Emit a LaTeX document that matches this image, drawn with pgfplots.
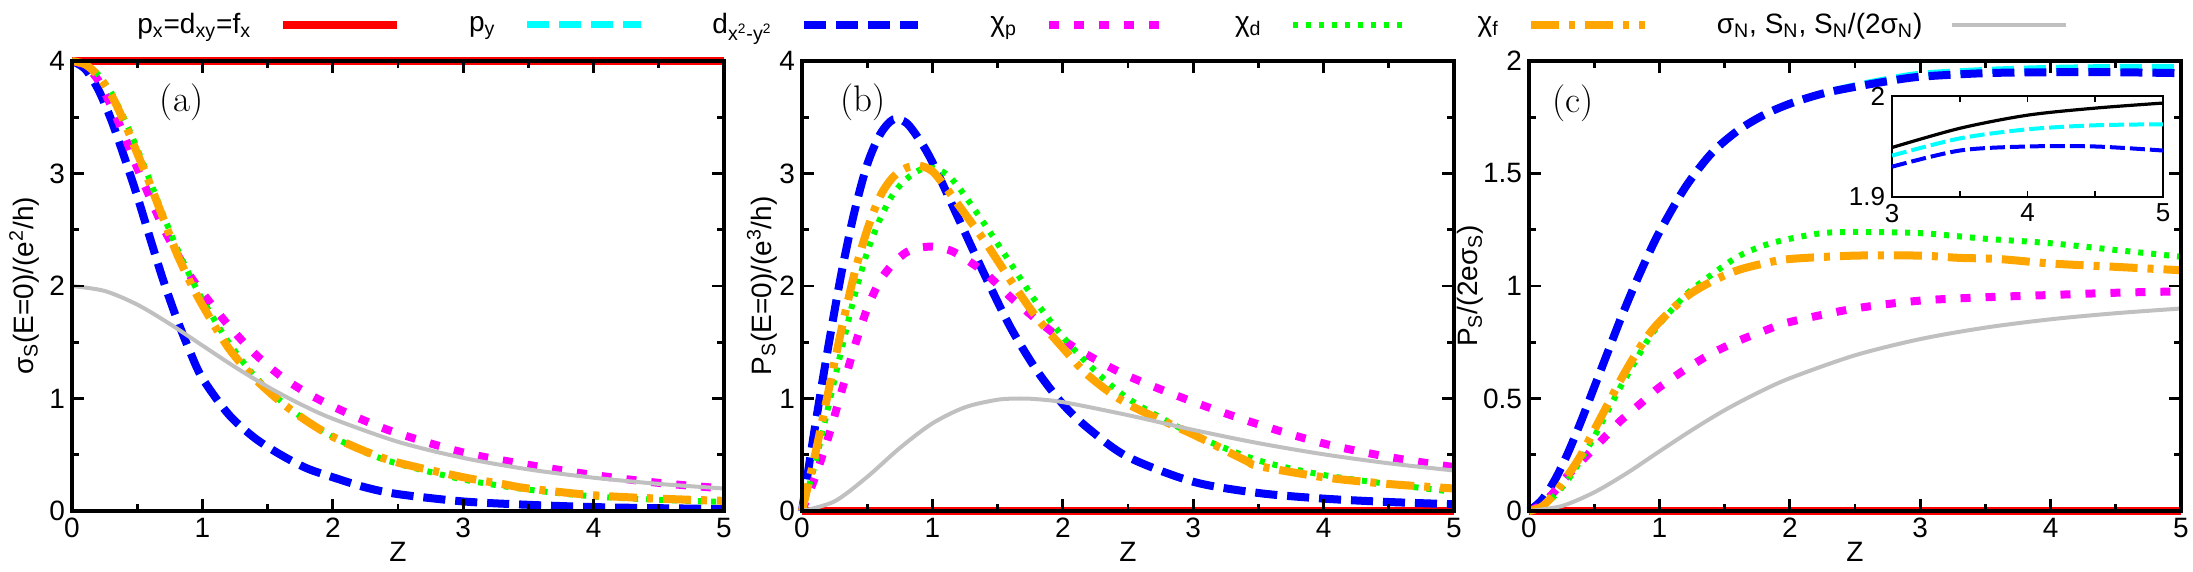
\documentclass[border=0pt]{standalone}
\usepackage{pgfplots}
\pgfplotsset{compat=1.18}
\usepackage{fontspec}
\setsansfont{Liberation Sans}
\definecolor{myorange}{RGB}{255,165,0}
\definecolor{mygray}{RGB}{192,192,192}
\definecolor{myred}{RGB}{255,0,0}
\definecolor{mycyan}{RGB}{0,255,255}
\definecolor{myblue}{RGB}{0,0,255}
\definecolor{mymag}{RGB}{255,0,255}
\definecolor{mygreen}{RGB}{0,255,0}
\newcommand{\lf}{\sffamily\fontsize{14}{16}\selectfont}
\pgfplotsset{
 sred/.style={myred, line width=4pt},
 scyan/.style={mycyan, line width=3.5pt, dash pattern=on 11pt off 5pt},
 sblue/.style={myblue, line width=4pt, dash pattern=on 11pt off 5pt},
 smag/.style={mymag, line width=4pt, dash pattern=on 5pt off 7.5pt},
 sgreen/.style={mygreen, line width=3pt, dash pattern=on 2.5pt off 4pt},
 sorange/.style={myorange, line width=4pt, dash pattern=on 14pt off 5pt on 3pt off 5pt},
 sgray/.style={mygray, line width=2pt},
 panel/.style={scale only axis, width=326pt, height=225pt, xmin=0, xmax=5,
   xtick={0,1,2,3,4,5}, minor x tick num=1, minor y tick num=1,
   tick align=inside, major tick length=6pt, minor tick length=3.5pt,
   axis line style={line width=1.6pt}, every tick/.style={black, line width=1.4pt},
   tick label style={font=\lf},
   /pgf/number format/assume math mode=true,
   xlabel={Z}, every axis x label/.style={at={(axis description cs:0.5,-0.09)}, anchor=center, font=\lf},
   clip=false, axis on top},
}
\begin{document}
\begin{tikzpicture}
%================ (a)
\begin{axis}[panel, at={(36pt,30.5pt)}, anchor=south west, ymin=0, ymax=4, ytick={0,1,2,3,4},
  ylabel={σ\textsubscript{S}(E=0)/(e\textsuperscript{2}/h)},
  every axis y label/.style={at={(axis description cs:-0.0735,0.5)}, rotate=90, anchor=center, font=\lf},
  legend columns=7, legend plot pos=right,
  legend image code/.code={\draw[#1] (0pt,0pt) -- (57pt,0pt);},
  legend style={at={(axis description cs:0.0995,1.08)}, anchor=west, draw=none, fill=none, inner sep=0pt, font=\lf,
    nodes={inner xsep=0pt, inner ysep=1pt},
    /tikz/every odd column/.append style={column sep=14pt},
    /tikz/every even column/.append style={column sep=34pt}}]
\addplot[sred] coordinates {(0,4)(5,4)};
\addlegendentry{p\textsubscript{x}=d\textsubscript{xy}=f\textsubscript{x}}
\addplot[scyan, smooth] coordinates {(0,4)(0.1,3.93)(0.2,3.75)(0.3,3.48)(0.4,3.15)(0.5,2.8)(0.6,2.42)(0.7,2.05)(0.8,1.72)(0.9,1.43)(1.0,1.18)(1.2,0.86)(1.4,0.65)(1.6,0.5)(1.8,0.38)(2.0,0.3)(2.25,0.21)(2.5,0.15)(3.0,0.085)(3.5,0.055)(4.0,0.035)(4.5,0.025)(5.0,0.018)};
\addlegendentry{p\textsubscript{y}}
\addplot[sblue, smooth] coordinates {(0,4)(0.1,3.93)(0.2,3.75)(0.3,3.48)(0.4,3.15)(0.5,2.8)(0.6,2.42)(0.7,2.05)(0.8,1.72)(0.9,1.43)(1.0,1.18)(1.2,0.86)(1.4,0.65)(1.6,0.5)(1.8,0.38)(2.0,0.3)(2.25,0.21)(2.5,0.15)(3.0,0.085)(3.5,0.055)(4.0,0.035)(4.5,0.025)(5.0,0.018)};
\addlegendentry{d\textsubscript{x\textsuperscript{2}-y\textsuperscript{2}}}
\addplot[smag, smooth] coordinates {(0,4)(0.1,3.96)(0.2,3.83)(0.3,3.6)(0.4,3.34)(0.5,3.05)(0.6,2.78)(0.7,2.52)(0.8,2.3)(0.9,2.1)(1.0,1.94)(1.2,1.65)(1.4,1.4)(1.6,1.2)(1.8,1.05)(2.0,0.93)(2.25,0.8)(2.5,0.69)(3.0,0.52)(3.5,0.41)(4.0,0.32)(4.5,0.25)(5.0,0.2)};
\addlegendentry{χ\textsubscript{p}}
\addplot[sgreen, smooth] coordinates {(0,4)(0.1,3.97)(0.2,3.88)(0.3,3.72)(0.4,3.49)(0.5,3.22)(0.6,2.93)(0.7,2.63)(0.8,2.35)(0.9,2.1)(1.0,1.88)(1.2,1.5)(1.4,1.2)(1.6,0.98)(1.8,0.8)(2.0,0.66)(2.25,0.52)(2.5,0.42)(3.0,0.28)(3.5,0.19)(4.0,0.13)(4.5,0.1)(5.0,0.08)};
\addlegendentry{χ\textsubscript{d}}
\addplot[sorange, smooth] coordinates {(0,4)(0.1,3.97)(0.2,3.87)(0.3,3.7)(0.4,3.46)(0.5,3.18)(0.6,2.9)(0.7,2.6)(0.8,2.3)(0.9,2.05)(1.0,1.83)(1.2,1.45)(1.4,1.18)(1.6,0.97)(1.8,0.8)(2.0,0.66)(2.25,0.53)(2.5,0.43)(3.0,0.3)(3.3,0.24)(3.5,0.2)(4.0,0.14)(4.5,0.11)(5.0,0.09)};
\addlegendentry{χ\textsubscript{f}}
\addplot[sgray, smooth] coordinates {(0,2)(0.25,1.956)(0.5,1.835)(0.75,1.663)(1,1.471)(1.25,1.28)(1.5,1.105)(1.75,0.951)(2,0.82)(2.5,0.615)(3,0.472)(3.5,0.37)(4,0.296)(4.5,0.241)(5,0.2)};
\addlegendentry{σ\textsubscript{N}, S\textsubscript{N}, S\textsubscript{N}/(2σ\textsubscript{N})}
\node[font=\fontsize{18.5}{20}\selectfont] at (axis cs:0.84,3.63) {(a)};
\end{axis}
%================ (b)
\begin{axis}[panel, at={(401pt,30.5pt)}, anchor=south west, ymin=0, ymax=4, ytick={0,1,2,3,4},
  ylabel={P\textsubscript{S}(E=0)/(e\textsuperscript{3}/h)},
  every axis y label/.style={at={(axis description cs:-0.0614,0.5)}, rotate=90, anchor=center, font=\lf}]
\addplot[sred] coordinates {(0,0)(5,0)};
\addplot[scyan, smooth] coordinates {(0,0)(0.1,0.75)(0.2,1.45)(0.3,2.1)(0.4,2.65)(0.5,3.08)(0.6,3.35)(0.7,3.48)(0.8,3.45)(0.9,3.3)(1.0,3.1)(1.2,2.6)(1.4,2.1)(1.6,1.63)(1.8,1.25)(2.0,0.95)(2.2,0.73)(2.5,0.48)(3.0,0.26)(3.5,0.16)(4.0,0.11)(4.5,0.08)(5.0,0.06)};
\addplot[sblue, smooth] coordinates {(0,0)(0.1,0.75)(0.2,1.45)(0.3,2.1)(0.4,2.65)(0.5,3.08)(0.6,3.35)(0.7,3.48)(0.8,3.45)(0.9,3.3)(1.0,3.1)(1.2,2.6)(1.4,2.1)(1.6,1.63)(1.8,1.25)(2.0,0.95)(2.2,0.73)(2.5,0.48)(3.0,0.26)(3.5,0.16)(4.0,0.11)(4.5,0.08)(5.0,0.06)};
\addplot[smag, smooth] coordinates {(0,0)(0.1,0.3)(0.2,0.65)(0.3,1.05)(0.4,1.45)(0.5,1.8)(0.6,2.05)(0.7,2.2)(0.8,2.3)(0.9,2.34)(1.0,2.35)(1.1,2.33)(1.2,2.28)(1.4,2.12)(1.6,1.9)(1.8,1.7)(2.0,1.52)(2.2,1.38)(2.5,1.2)(3.0,0.97)(3.5,0.77)(4.0,0.6)(4.5,0.48)(5.0,0.39)};
\addplot[sgreen, smooth] coordinates {(0,0)(0.1,0.42)(0.2,0.92)(0.3,1.42)(0.4,1.9)(0.5,2.3)(0.6,2.6)(0.7,2.82)(0.8,2.95)(0.9,3.03)(1.0,3.05)(1.1,3.0)(1.2,2.88)(1.4,2.55)(1.6,2.2)(1.8,1.85)(2.0,1.55)(2.2,1.3)(2.5,1.0)(3.0,0.68)(3.5,0.45)(4.0,0.32)(4.5,0.24)(5.0,0.17)};
\addplot[sorange, smooth] coordinates {(0,0)(0.1,0.5)(0.2,1.05)(0.3,1.6)(0.4,2.1)(0.5,2.5)(0.6,2.8)(0.7,2.97)(0.8,3.05)(0.9,3.07)(1.0,3.02)(1.1,2.88)(1.2,2.72)(1.4,2.4)(1.6,2.05)(1.8,1.72)(2.0,1.45)(2.2,1.2)(2.5,0.95)(3.0,0.68)(3.4,0.45)(3.5,0.4)(4.0,0.3)(4.5,0.24)(5.0,0.2)};
\addplot[sgray, smooth] coordinates {(0,0)(0.25,0.086)(0.5,0.303)(0.75,0.56)(1,0.779)(1.25,0.922)(1.5,0.989)(1.667,1.0)(1.75,0.998)(2,0.968)(2.5,0.852)(3,0.721)(3.5,0.603)(4,0.504)(4.5,0.424)(5,0.36)};
\node[font=\fontsize{18.5}{20}\selectfont] at (axis cs:0.47,3.63) {(b)};
\end{axis}
%================ (c)
\begin{axis}[panel, at={(764.5pt,30.5pt)}, anchor=south west, ymin=0, ymax=2, ytick={0,0.5,1,1.5,2}, yticklabels={0,0.5,1,1.5,2},
  ylabel={P\textsubscript{S}/(2eσ\textsubscript{S})},
  every axis y label/.style={at={(axis description cs:-0.090,0.5)}, rotate=90, anchor=center, font=\lf}]
\addplot[sred] coordinates {(0,0)(5,0)};
\addplot[scyan, smooth] coordinates {(0,0)(0.1,0.05)(0.2,0.14)(0.3,0.26)(0.4,0.4)(0.5,0.55)(0.6,0.7)(0.7,0.85)(0.8,0.99)(0.9,1.12)(1.0,1.24)(1.2,1.44)(1.4,1.59)(1.6,1.69)(1.8,1.76)(2.0,1.81)(2.25,1.855)(2.5,1.89)(2.75,1.918)(3.0,1.941)(3.5,1.958)(4.0,1.967)(4.5,1.971)(5.0,1.972)};
\addplot[sblue, smooth] coordinates {(0,0)(0.1,0.05)(0.2,0.14)(0.3,0.26)(0.4,0.4)(0.5,0.55)(0.6,0.7)(0.7,0.85)(0.8,0.99)(0.9,1.12)(1.0,1.24)(1.2,1.44)(1.4,1.59)(1.6,1.69)(1.8,1.76)(2.0,1.81)(2.25,1.855)(2.5,1.885)(2.75,1.91)(3.0,1.93)(3.5,1.946)(4.0,1.95)(4.5,1.95)(5.0,1.946)};
\addplot[smag, smooth] coordinates {(0,0)(0.1,0.03)(0.2,0.09)(0.3,0.16)(0.4,0.22)(0.5,0.28)(0.6,0.34)(0.7,0.4)(0.8,0.45)(0.9,0.5)(1.0,0.55)(1.2,0.63)(1.4,0.7)(1.6,0.755)(1.8,0.8)(2.0,0.84)(2.5,0.9)(3.0,0.935)(3.5,0.95)(4.0,0.96)(4.5,0.97)(5.0,0.976)};
\addplot[sgreen, smooth] coordinates {(0,0)(0.1,0.02)(0.2,0.07)(0.3,0.14)(0.4,0.23)(0.5,0.33)(0.6,0.44)(0.7,0.55)(0.8,0.65)(0.9,0.75)(1.0,0.83)(1.2,0.96)(1.4,1.05)(1.6,1.13)(1.8,1.18)(2.0,1.21)(2.25,1.235)(2.5,1.24)(3.0,1.235)(3.5,1.21)(4.0,1.19)(4.5,1.16)(5.0,1.13)};
\addplot[sorange, smooth] coordinates {(0,0)(0.1,0.02)(0.2,0.08)(0.3,0.16)(0.4,0.25)(0.5,0.36)(0.6,0.47)(0.7,0.58)(0.8,0.68)(0.9,0.77)(1.0,0.84)(1.2,0.95)(1.4,1.02)(1.6,1.07)(1.8,1.1)(2.0,1.12)(2.5,1.135)(3.0,1.135)(3.3,1.125)(3.6,1.12)(4.0,1.1)(4.5,1.085)(5.0,1.07)};
\addplot[sgray, smooth] coordinates {(0,0)(0.25,0.022)(0.5,0.083)(0.75,0.168)(1,0.265)(1.25,0.36)(1.5,0.448)(1.75,0.524)(2,0.59)(2.5,0.692)(3,0.764)(3.5,0.815)(4,0.852)(4.5,0.879)(5,0.9)};
\node[font=\fontsize{18.5}{20}\selectfont] at (axis cs:0.34,1.81) {(c)};
\end{axis}
%================ inset
\begin{axis}[at={(946pt,187.5pt)}, anchor=south west, scale only axis, width=135.5pt, height=50.5pt,
  xmin=3, xmax=5, ymin=1.9, ymax=2, xtick={3,4,5}, ytick={1.9,2}, yticklabels={1.9,2},
  minor x tick num=1, tick align=inside, major tick length=3pt, minor tick length=3pt,
  axis line style={line width=1pt}, every tick/.style={black, line width=0.8pt},
  tick label style={font=\sffamily\fontsize{13}{15}\selectfont},
  /pgf/number format/assume math mode=true,
  axis background/.style={fill=white}, clip=false]
\addplot[black, line width=1.6pt, smooth] coordinates {(3,1.949)(3.5,1.968)(4,1.981)(4.5,1.988)(5,1.993)};
\addplot[mycyan, line width=2pt, dash pattern=on 7.5pt off 2.5pt, smooth] coordinates {(3,1.941)(3.5,1.958)(4,1.967)(4.5,1.971)(5,1.972)};
\addplot[myblue, line width=2pt, dash pattern=on 7.5pt off 2.5pt, smooth] coordinates {(3,1.93)(3.5,1.946)(4,1.95)(4.5,1.95)(5,1.946)};
\end{axis}
\pgfresetboundingbox
\path[use as bounding box] (0,0) rectangle (1096.5pt,286pt);
\end{tikzpicture}
\end{document}
